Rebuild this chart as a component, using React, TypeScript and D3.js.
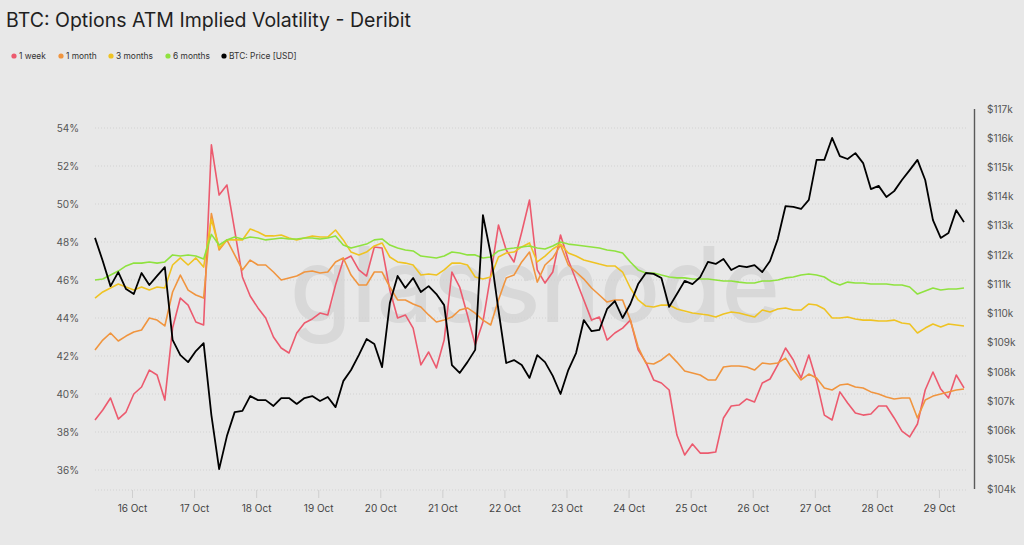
import { useEffect, useRef } from 'react';
import * as d3 from 'd3';

// 3-hourly samples starting 15 Oct 2025 09:30 UTC
const START = Date.UTC(2025, 9, 15, 9, 30);
const STEP_HOURS = 3;

const week1 = [
  38.63, 39.16, 39.79, 38.68, 39.05, 40.0, 40.37, 41.26, 41.0, 39.68,
  43.47, 45.05, 44.68, 43.79, 43.63, 53.11, 50.47, 51.0, 48.63, 46.16,
  45.16, 44.53, 44.0, 43.0, 42.42, 42.16, 43.21, 43.74, 43.95, 44.26,
  44.16, 45.74, 47.05, 47.26, 46.53, 46.21, 47.74, 47.68, 45.47, 44.0,
  44.16, 43.47, 41.53, 42.21, 41.37, 42.84, 46.42, 45.63, 44.16, 42.58,
  43.79, 46.26, 48.89, 47.58, 46.95, 48.53, 50.21, 46.53, 45.84, 46.42,
  48.37, 47.05, 46.0, 44.95, 43.89, 44.05, 42.84, 43.21, 43.47, 43.89,
  42.32, 41.68, 40.74, 40.58, 40.21, 37.84, 36.79, 37.37, 36.89, 36.89,
  36.95, 38.74, 39.37, 39.42, 39.74, 39.58, 40.58, 40.79, 41.53, 42.42,
  41.79, 40.84, 42.05, 40.68, 38.89, 38.63, 40.11, 39.53, 39.0, 38.89,
  38.95, 39.37, 39.37, 38.74, 38.05, 37.74, 38.42, 40.21, 41.16, 40.26,
  39.79, 41.0, 40.32,
];

const month1 = [
  42.32, 42.84, 43.21, 42.79, 43.05, 43.26, 43.37, 44.0, 43.89, 43.58,
  45.37, 46.26, 45.47, 45.21, 45.05, 49.5, 47.58, 48.11, 47.32, 46.53,
  47.05, 46.79, 46.79, 46.42, 46.0, 46.11, 46.21, 46.42, 46.47, 46.37,
  46.42, 46.95, 47.16, 46.26, 45.74, 45.74, 46.42, 46.42, 45.63, 44.95,
  44.95, 44.74, 44.58, 44.16, 43.79, 43.89, 44.05, 44.42, 44.53, 44.26,
  43.89, 43.63, 44.95, 46.11, 46.26, 46.95, 47.47, 45.89, 46.79, 47.16,
  47.84, 46.79, 46.42, 46.05, 45.58, 45.21, 44.84, 44.95, 44.95, 43.89,
  42.47, 41.63, 41.58, 41.79, 42.11, 41.68, 41.21, 41.11, 41.0, 40.74,
  40.74, 41.42, 41.47, 41.47, 41.42, 41.26, 41.63, 41.58, 41.63, 41.89,
  41.26, 40.74, 41.05, 40.84, 40.32, 40.21, 40.47, 40.53, 40.37, 40.32,
  40.11, 40.0, 39.84, 39.74, 39.79, 39.79, 38.74, 39.68, 39.89, 40.0,
  40.11, 40.21, 40.26,
];

const months3 = [
  45.05, 45.37, 45.58, 45.79, 45.63, 45.47, 45.63, 45.47, 45.63, 45.58,
  46.79, 47.16, 46.79, 47.16, 46.68, 49.2, 47.68, 48.11, 48.11, 48.11,
  48.68, 48.53, 48.32, 48.32, 48.37, 48.21, 48.11, 48.21, 48.32, 48.26,
  48.26, 48.63, 48.11, 47.47, 47.32, 47.47, 47.79, 47.95, 47.21, 46.95,
  46.89, 46.79, 46.26, 46.32, 46.26, 46.53, 46.89, 46.89, 46.79, 46.16,
  46.05, 46.16, 47.21, 47.42, 47.47, 47.74, 47.95, 46.95, 47.26, 47.63,
  47.89, 47.42, 47.26, 47.05, 46.95, 46.84, 46.74, 46.74, 46.42, 45.58,
  44.95, 44.63, 44.58, 44.68, 44.68, 44.47, 44.37, 44.26, 44.21, 44.16,
  44.05, 44.21, 44.32, 44.26, 44.16, 44.05, 44.42, 44.32, 44.47, 44.53,
  44.42, 44.42, 44.74, 44.68, 44.47, 44.0, 44.0, 44.05, 43.95, 43.89,
  43.89, 43.84, 43.84, 43.89, 43.74, 43.68, 43.21, 43.47, 43.68, 43.53,
  43.68, 43.63, 43.58,
];

const months6 = [
  46.0, 46.05, 46.26, 46.47, 46.74, 46.89, 46.89, 46.95, 46.89, 46.95,
  47.32, 47.26, 47.32, 47.26, 47.11, 48.4, 47.84, 48.11, 48.26, 48.16,
  48.26, 48.21, 48.11, 48.16, 48.21, 48.16, 48.16, 48.21, 48.21, 48.16,
  48.21, 48.32, 47.84, 47.68, 47.79, 47.89, 48.11, 48.16, 47.84, 47.68,
  47.58, 47.53, 47.26, 47.21, 47.16, 47.26, 47.47, 47.42, 47.32, 47.32,
  47.16, 47.21, 47.53, 47.63, 47.68, 47.74, 47.79, 47.68, 47.63, 47.79,
  48.0, 47.89, 47.84, 47.79, 47.74, 47.68, 47.58, 47.53, 47.42, 46.95,
  46.53, 46.37, 46.37, 46.26, 46.16, 46.11, 46.11, 46.05, 46.05, 46.05,
  46.0, 45.95, 45.95, 45.89, 45.84, 45.84, 45.95, 45.95, 46.0, 46.11,
  46.16, 46.26, 46.32, 46.26, 46.16, 45.89, 45.74, 45.89, 45.84, 45.84,
  45.79, 45.79, 45.79, 45.74, 45.74, 45.63, 45.26, 45.42, 45.58, 45.47,
  45.53, 45.53, 45.58,
];

const btcPrice = [
  112590, 111800, 110940, 111420, 110840, 110670, 111390, 110980, 111290, 111590,
  109100, 108580, 108340, 108720, 108990, 106530, 104680, 105810, 106630, 106670,
  107180, 107040, 107040, 106840, 107110, 107110, 106910, 107110, 107180, 107010,
  107150, 106800, 107690, 108070, 108580, 109130, 108960, 108170, 110360, 111290,
  110880, 111220, 110740, 110940, 110670, 110290, 108240, 107970, 108340, 108760,
  113370, 112040, 110120, 108310, 108410, 108240, 107800, 108580, 108340, 107870,
  107250, 108070, 108650, 109780, 109400, 109440, 110160, 110430, 109850, 110330,
  111010, 111390, 111360, 111220, 110230, 110670, 111120, 111010, 111250, 111770,
  111700, 111870, 111490, 111630, 111590, 111660, 111420, 111800, 112550, 113680,
  113650, 113580, 113890, 115260, 115260, 116010, 115390, 115290, 115490, 115150,
  114260, 114370, 113990, 114190, 114570, 114910, 115260, 114570, 113200, 112590,
  112760, 113540, 113130,
];

const ivTicks = [36, 38, 40, 42, 44, 46, 48, 50, 52, 54];
const priceTicks = [104000, 105000, 106000, 107000, 108000, 109000, 110000, 111000, 112000, 113000, 114000, 115000, 116000, 117000];

const seriesNames = ['1 week', '1 month', '3 months', '6 months', 'BTC: Price [USD]'];
const seriesColors = ['#ec5a6e', '#f0953f', '#efc323', '#8fe23f', '#000000'];

const FONT = 'Inter, "Liberation Sans", Arial, sans-serif';

export default function App() {
  const svgRef = useRef<SVGSVGElement>(null);

  useEffect(() => {
    if (!svgRef.current) return;
    const width = 1024;
    const height = 545;

    const svg = d3.select(svgRef.current);
    svg.selectAll('*').remove();
    svg.attr('width', width).attr('height', height);

    svg.append('rect').attr('width', width).attr('height', height).attr('fill', '#e8e8e8');

    const dates = btcPrice.map((_, i) => d3.utcHour.offset(new Date(START), i * STEP_HOURS));

    const x = d3.scaleUtc()
      .domain([dates[0], dates[dates.length - 1]])
      .range([95, 964]);
    const yIv = d3.scaleLinear().domain([35, 55]).range([489, 109]);
    const yPrice = d3.scaleLinear().domain([104000, 117000]).range([489, 109]);

    // title
    svg.append('text')
      .text('BTC: Options ATM Implied Volatility - Deribit')
      .attr('x', 6)
      .attr('y', 27)
      .attr('font-family', FONT)
      .attr('font-size', '19.5px')
      .attr('fill', '#1f1f1f');

    // legend
    const legend = svg.append('g').attr('transform', 'translate(0,56)');
    const legendX = [13, 60, 110, 167, 223];
    seriesNames.forEach((name, i) => {
      legend.append('circle')
        .attr('cx', legendX[i] + 1)
        .attr('cy', 0)
        .attr('r', 2.6)
        .attr('fill', seriesColors[i]);
      legend.append('text')
        .text(name)
        .attr('x', legendX[i] + 6)
        .attr('y', 3)
        .attr('font-family', FONT)
        .attr('font-size', '8.4px')
        .attr('fill', '#333');
    });

    // watermark
    svg.append('text')
      .text('glassnode')
      .attr('x', 290)
      .attr('y', 322)
      .attr('textLength', 490)
      .attr('lengthAdjust', 'spacingAndGlyphs')
      .attr('font-family', FONT)
      .attr('font-weight', 500)
      .attr('font-size', '104px')
      .attr('fill', '#d8d8d8');

    // grid
    const grid = svg.append('g');
    grid.selectAll('line')
      .data(ivTicks)
      .join('line')
      .attr('x1', 95)
      .attr('x2', 968)
      .attr('y1', (d) => yIv(d))
      .attr('y2', (d) => yIv(d))
      .attr('stroke', '#d2d2d2')
      .attr('stroke-dasharray', '1,2');

    svg.append('line')
      .attr('x1', 95).attr('x2', 968)
      .attr('y1', 490).attr('y2', 490)
      .attr('stroke', '#d2d2d2')
      .attr('stroke-dasharray', '1,2');

    // left axis labels
    svg.append('g')
      .selectAll('text')
      .data(ivTicks)
      .join('text')
      .text((d) => `${d}%`)
      .attr('x', 79)
      .attr('y', (d) => yIv(d))
      .attr('dy', '0.35em')
      .attr('text-anchor', 'end')
      .attr('font-family', FONT)
      .attr('font-size', '10px')
      .attr('fill', '#555');

    // right axis
    svg.append('line')
      .attr('x1', 974.5).attr('x2', 974.5)
      .attr('y1', 109).attr('y2', 489)
      .attr('stroke', '#5a5a5a')
      .attr('stroke-width', 1.4);

    svg.append('g')
      .selectAll('text')
      .data(priceTicks)
      .join('text')
      .text((d) => `$${d / 1000}k`)
      .attr('x', 987)
      .attr('y', (d) => yPrice(d))
      .attr('dy', '0.35em')
      .attr('font-family', FONT)
      .attr('font-size', '10px')
      .attr('fill', '#555');

    // x axis
    const dayTicks = x.ticks(d3.utcDay.every(1)!).filter((d) => x(d) > 100);
    const fmt = d3.utcFormat('%-d %b');
    const xg = svg.append('g');
    xg.selectAll('line')
      .data(dayTicks)
      .join('line')
      .attr('x1', (d) => x(d))
      .attr('x2', (d) => x(d))
      .attr('y1', 490)
      .attr('y2', 498)
      .attr('stroke', '#cfcfcf');
    xg.selectAll('text')
      .data(dayTicks)
      .join('text')
      .text((d) => fmt(d))
      .attr('x', (d) => x(d))
      .attr('y', 512)
      .attr('text-anchor', 'middle')
      .attr('font-family', FONT)
      .attr('font-size', '10px')
      .attr('fill', '#444');

    // lines
    const ivSeries = [week1, month1, months3, months6];
    const ivLine = d3.line<number>()
      .x((_, i) => x(dates[i]))
      .y((d) => yIv(d));

    const lines = svg.append('g').attr('fill', 'none').attr('stroke-linejoin', 'round');
    ivSeries.forEach((s, i) => {
      lines.append('path')
        .datum(s)
        .attr('d', ivLine)
        .attr('stroke', seriesColors[i])
        .attr('stroke-width', 1.6);
    });

    const priceLine = d3.line<number>()
      .x((_, i) => x(dates[i]))
      .y((d) => yPrice(d));

    lines.append('path')
      .datum(btcPrice)
      .attr('d', priceLine)
      .attr('stroke', seriesColors[4])
      .attr('stroke-width', 1.8);
  }, []);

  return (
    <div style={{ position: 'absolute', left: 0, top: 0 }}>
      <svg ref={svgRef} style={{ display: 'block' }} />
    </div>
  );
}
